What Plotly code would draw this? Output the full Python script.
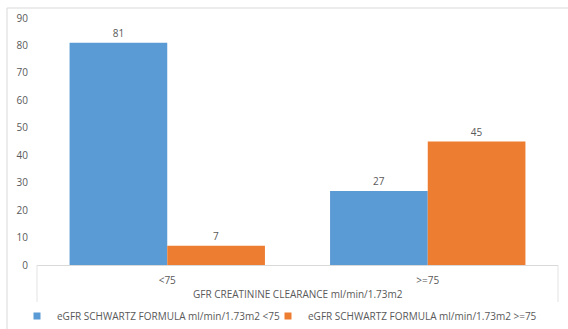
import plotly.graph_objects as go

categories = ["<75", ">=75"]
series_names = [
    "eGFR SCHWARTZ FORMULA ml/min/1.73m2 <75",
    "eGFR SCHWARTZ FORMULA ml/min/1.73m2 >=75",
]
below_75 = [81, 27]
above_75 = [7, 45]
y_ticks = [0, 10, 20, 30, 40, 50, 60, 70, 80, 90]
x_title = "GFR CREATININE CLEARANCE ml/min/1.73m2"

colors = ["#5B9BD5", "#ED7D31"]
TXT = "#595959"
FAM = "Open Sans, Liberation Sans, sans-serif"
font = dict(family=FAM, size=10, color=TXT)

W, H = 568, 329
L, R, T, B = 37, 10, 18, 64
pw, ph = W - L - R, H - T - B


def px_x(p):
    return (p - L) / pw


def px_y(p):
    return (H - B - p) / ph


fig = go.Figure()
legends = ["legend", "legend2"]
for name, vals, col, lg in zip(series_names, [below_75, above_75], colors, legends):
    fig.add_trace(go.Bar(
        x=categories, y=vals, name=name,
        marker=dict(color=col, line=dict(width=0)),
        text=vals, textposition="outside",
        textfont=dict(size=10, color=TXT),
        cliponaxis=False, showlegend=False,
    ))
    # small square key for the legend
    fig.add_trace(go.Scatter(
        x=[None], y=[None], mode="markers", name=name,
        marker=dict(symbol="square", size=7, color=col),
        legend=lg, showlegend=True,
    ))

shapes = [
    # outer chart border
    dict(type="rect", xref="paper", yref="paper",
         x0=px_x(7), x1=px_x(575), y0=px_y(8), y1=px_y(340),
         line=dict(color="#D9D9D9", width=1), fillcolor="rgba(0,0,0,0)", layer="below"),
    # category axis box sides
    dict(type="line", xref="paper", yref="paper",
         x0=0, x1=0, y0=0, y1=px_y(302),
         line=dict(color="#E3E3E3", width=1)),
    dict(type="line", xref="paper", yref="paper",
         x0=1, x1=1, y0=0, y1=px_y(302),
         line=dict(color="#E3E3E3", width=1)),
]

legend_common = dict(orientation="h", yanchor="middle", xanchor="left",
                     font=dict(family=FAM, size=10, color=TXT), itemwidth=30,
                     bgcolor="rgba(0,0,0,0)", xref="container", yref="container")

fig.update_layout(
    width=W, height=H,
    margin=dict(l=L, r=R, t=T, b=B, autoexpand=False),
    paper_bgcolor="white", plot_bgcolor="white",
    font=font,
    barmode="group", bargap=0.25, bargroupgap=0,
    showlegend=True,
    legend=dict(legend_common, x=17 / W, y=(H - 316) / H),
    legend2=dict(legend_common, x=268 / W, y=(H - 316) / H),
    shapes=shapes,
    annotations=[dict(text=x_title, xref="paper", yref="paper", x=0.5, y=px_y(294),
                      showarrow=False, font=dict(family=FAM, size=10, color=TXT),
                      xanchor="center", yanchor="middle")],
)
fig.update_xaxes(showline=True, linecolor="#D9D9D9", linewidth=1, ticks="",
                 tickfont=dict(size=10, color=TXT), showgrid=False, automargin=False,
                 ticklabelstandoff=6)
fig.update_yaxes(range=[0, 90], tickvals=y_ticks, showgrid=False, showline=False,
                 zeroline=False, ticks="", tickfont=dict(size=10, color=TXT),
                 ticklabelstandoff=8, automargin=False)

fig.write_html("out.html")
